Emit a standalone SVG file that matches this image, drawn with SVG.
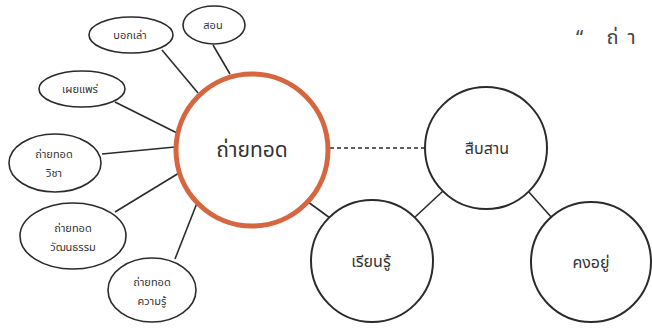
<svg xmlns="http://www.w3.org/2000/svg" width="652" height="329" viewBox="0 0 652 329">
<style>
.bg{fill:#ffffff}
.e{fill:#ffffff;stroke:#2b2b2b;stroke-width:1.6}
.big{fill:#ffffff;stroke:#2b2b2b;stroke-width:2}
.hub{fill:#ffffff;stroke:#d5663f;stroke-width:5}
.ln{stroke:#2b2b2b;stroke-width:1.6;fill:none}
.dash{stroke:#2b2b2b;stroke-width:1.4;stroke-dasharray:4 3;fill:none}
text{font-family:"Noto Sans Thai","Noto Sans","DejaVu Sans",sans-serif;fill:#333;text-anchor:middle}
.s{font-size:11px}
.m{font-size:16px}
.l{font-size:21px}
.q{font-size:20px;text-anchor:start;letter-spacing:9px;fill:#444}
</style>
<rect class="bg" x="0" y="0" width="652" height="329"/>
<g id="connectors">
<line class="ln" x1="213" y1="45" x2="230" y2="74"/>
<line class="ln" x1="162" y1="50" x2="198" y2="93"/>
<line class="ln" x1="115" y1="102" x2="177" y2="133"/>
<line class="ln" x1="102" y1="154" x2="175" y2="147"/>
<line class="ln" x1="115" y1="212" x2="179" y2="173"/>
<line class="ln" x1="175" y1="259" x2="197" y2="203"/>
<line class="dash" x1="330" y1="148" x2="425" y2="148"/>
<line class="ln" x1="304" y1="199" x2="330" y2="218"/>
<line class="ln" x1="443" y1="191" x2="414" y2="218"/>
<line class="ln" x1="528" y1="191" x2="552" y2="218"/>
</g>
<g id="sorn"><ellipse class="e" cx="214" cy="25" rx="31" ry="19"/><text class="s" x="213" y="29">สอน</text></g>
<g id="boklao"><ellipse class="e" cx="131" cy="35" rx="42" ry="18"/><text class="s" x="130" y="39">บอกเล่า</text></g>
<g id="phoeiphrae"><ellipse class="e" cx="82" cy="89" rx="43" ry="18"/><text class="s" x="80" y="93">เผยแพร่</text></g>
<g id="wicha"><ellipse class="e" cx="55" cy="163" rx="46" ry="29"/><text class="s" x="54" y="158">ถ่ายทอด</text><text class="s" x="54" y="177">วิชา</text></g>
<g id="watthanatham"><ellipse class="e" cx="73" cy="236" rx="53" ry="33"/><text class="s" x="73" y="232">ถ่ายทอด</text><text class="s" x="73" y="251">วัฒนธรรม</text></g>
<g id="khwamru"><ellipse class="e" cx="152" cy="290" rx="44" ry="32"/><text class="s" x="152" y="286">ถ่ายทอด</text><text class="s" x="152" y="305">ความรู้</text></g>
<g id="hub"><circle class="hub" cx="252" cy="150" r="76"/><text class="l" x="252" y="157">ถ่ายทอด</text></g>
<g id="suepsan"><circle class="big" cx="486" cy="148" r="61"/><text class="m" x="487" y="154">สืบสาน</text></g>
<g id="rianru"><circle class="big" cx="372" cy="261" r="61"/><text class="m" x="371" y="267">เรียนรู้</text></g>
<g id="khongyu"><circle class="big" cx="591" cy="262" r="60"/><text class="m" x="591" y="268">คงอยู่</text></g>
<text class="q" x="576" y="44">“ ถ่า</text>
</svg>
